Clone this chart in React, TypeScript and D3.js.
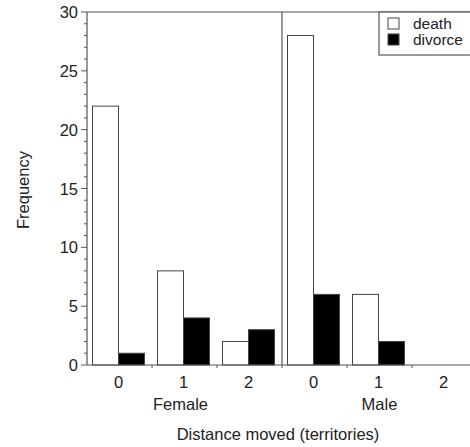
import React, { useEffect } from 'react'
import * as d3 from 'd3'

const sexes = ['Female', 'Male']
const distances = ['0', '1', '2']
const causes = ['death', 'divorce']
const femaleDeath = [22, 8, 2]
const femaleDivorce = [1, 4, 3]
const maleDeath = [28, 6, 0]
const maleDivorce = [6, 2, 0]
const yTicks = [0, 5, 10, 15, 20, 25, 30]

const values: Record<string, number[][]> = {
  Female: [femaleDeath, femaleDivorce],
  Male: [maleDeath, maleDivorce]
}

export default function App() {
  useEffect(() => {
    document.body.style.margin = '0'
  }, [])

  const width = 470
  const height = 447
  const left = 87
  const top = 12
  const bottom = 365
  const font = 'Liberation Sans, Arial, sans-serif'
  const axisColor = '#555'

  const yScale = d3.scaleLinear().domain([0, 30]).range([bottom, top])
  const groupScale = d3.scaleBand().domain(sexes).range([left, left + 390]).padding(0)
  const distScale = d3.scaleBand().domain(distances).range([0, groupScale.bandwidth()]).padding(0)
  const causeScale = d3.scaleBand().domain(causes).range([0, distScale.bandwidth()]).paddingInner(0).paddingOuter(0.25)
  const minorTicks = d3.range(0, 31)

  return (
    <svg width={width} height={height} viewBox={`0 0 ${width} ${height}`} style={{ display: 'block', background: '#fff' }} fontFamily={font}>
      {/* bars */}
      {sexes.map(sex => distances.map((d, i) => causes.map((c, j) => {
        const v = values[sex][j][i]
        if (!v) return null
        const x = (groupScale(sex) ?? 0) + (distScale(d) ?? 0) + (causeScale(c) ?? 0) - 1
        return (
          <rect key={`${sex}_${d}_${c}`} x={x} y={yScale(v)} width={causeScale.bandwidth()} height={bottom - yScale(v)}
            fill={c === 'death' ? '#fff' : '#000'} stroke="#444" strokeWidth={1} />
        )
      })))}

      {/* frame lines */}
      <line x1={left} x2={width} y1={top} y2={top} stroke={axisColor} strokeWidth={1.2} />
      <line x1={left} x2={width} y1={bottom} y2={bottom} stroke={axisColor} strokeWidth={1.2} />
      <line x1={left} x2={left} y1={top} y2={bottom} stroke={axisColor} strokeWidth={1.2} />
      <line x1={groupScale('Male')} x2={groupScale('Male')} y1={top} y2={bottom} stroke={axisColor} strokeWidth={1.2} />

      {/* y ticks */}
      {minorTicks.map(t => (
        <line key={`m_${t}`} x1={left - (t % 5 === 0 ? 6 : 3)} x2={left} y1={yScale(t)} y2={yScale(t)} stroke={axisColor} strokeWidth={1} />
      ))}
      {yTicks.map(t => (
        <text key={`y_${t}`} x={left - 9} y={yScale(t)} textAnchor="end" dominantBaseline="central" fontSize={16.5} fill="#222">{t}</text>
      ))}

      {/* x ticks and labels */}
      {sexes.map(sex => distances.map(d => {
        const x0 = (groupScale(sex) ?? 0) + (distScale(d) ?? 0)
        return (
          <g key={`x_${sex}_${d}`}>
            <line x1={x0 + distScale.bandwidth()} x2={x0 + distScale.bandwidth()} y1={bottom} y2={bottom + 3} stroke={axisColor} strokeWidth={1} />
            <text x={x0 + distScale.bandwidth() / 2 - 1} y={388} textAnchor="middle" fontSize={16.5} fill="#222">{d}</text>
          </g>
        )
      }))}
      {sexes.map((sex, i) => (
        <text key={`s_${sex}`} x={(groupScale(sex) ?? 0) + (distScale('1') ?? 0) + distScale.bandwidth() / 2 + (i === 0 ? -4 : 0)} y={410} textAnchor="middle" fontSize={16.5} fill="#222">{sex}</text>
      ))}
      <text x={278} y={440} textAnchor="middle" fontSize={16.5} fill="#222">Distance moved (territories)</text>
      <text transform="translate(29,190) rotate(-90)" textAnchor="middle" fontSize={16.5} fill="#222">Frequency</text>

      {/* legend */}
      <rect x={379} y={top} width={100} height={43} fill="#fff" stroke={axisColor} strokeWidth={1.2} />
      {causes.map((c, i) => (
        <g key={`l_${c}`} transform={`translate(388,${18 + i * 16})`}>
          <rect x={0} y={0} width={11} height={11} fill={c === 'death' ? '#fff' : '#000'} stroke="#444" strokeWidth={1} />
          <text x={25} y={11} fontSize={15.5} fill="#222">{c}</text>
        </g>
      ))}
    </svg>
  )
}
